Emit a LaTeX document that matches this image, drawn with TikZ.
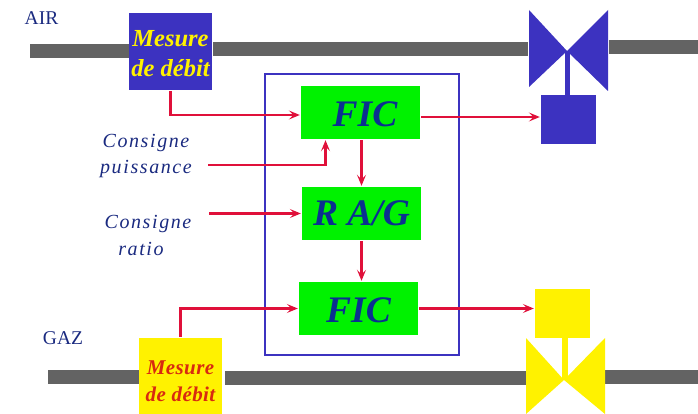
\documentclass[tikz,border=0pt]{standalone}
\usepackage{fontspec}
\setmainfont{Liberation Serif}
\newfontfamily\spaced[LetterSpace=8]{Liberation Serif}
\newfontfamily\gasfont[LetterSpace=2]{Liberation Serif}
\usetikzlibrary{arrows.meta,positioning,calc}
\definecolor{valveblue}{HTML}{3C32C0}
\definecolor{pipegrey}{HTML}{636363}
\definecolor{labelblue}{HTML}{1A2A80}
\definecolor{ficblue}{HTML}{0B3090}
\definecolor{sigred}{HTML}{E0103A}
\definecolor{ficgreen}{HTML}{00F200}
\definecolor{gasred}{HTML}{D82A10}

\begin{document}
\begin{tikzpicture}[x=1pt,y=-1pt,
 pipe/.style={fill=pipegrey,draw=none,minimum height=14pt,inner sep=0pt},
 ctrl/.style={fill=ficgreen,draw=none,minimum width=119pt,minimum height=53pt,inner sep=0pt,text=ficblue,font=\fontsize{37.5}{40}\selectfont\itshape\bfseries},
 meas/.style={draw=none,minimum width=83pt,inner sep=0pt,align=center,font=\fontsize{24.5}{30}\selectfont\itshape\bfseries},
 act/.style={draw=none,minimum width=55pt,minimum height=49pt,inner sep=0pt},
 lbl/.style={text=labelblue,inner sep=0pt,align=center,font=\fontsize{20}{26.5}\selectfont\spaced\itshape},
 fluid/.style={text=labelblue,inner sep=0pt,font=\fontsize{19.5}{20}\selectfont},
 arr/.style={-{Stealth[length=11pt,width=9pt,inset=4.5pt]},draw=sigred,line width=2.2pt,shorten >=1pt,shorten <=1pt}]
\useasboundingbox (0,0) rectangle (698,414);
% pipes
\node[pipe,minimum width=99pt] (airl) at (79,51) {};
\node[pipe,minimum width=315pt] (airm) at (370.5,49) {};
\node[pipe,minimum width=89pt] (airr) at (653.5,47.5) {};
\node[pipe,minimum width=91pt] (gazl) at (93.5,376.5) {};
\node[pipe,minimum width=301pt] (gazm) at (375.5,378) {};
\node[pipe,minimum width=93pt] (gazr) at (651.5,376.5) {};
% controller frame
\node[draw=valveblue,line width=1.8pt,minimum width=194pt,minimum height=281pt,inner sep=0pt] (frame) at (362,214.5) {};
% air valve
\fill[valveblue] (529,10)--(529,87)--(567,51)--cycle;
\fill[valveblue] (608,10)--(608,91)--(567,51)--cycle;
\fill[valveblue] (565,51) rectangle (570,95);
\node[act,fill=valveblue] (actair) at (568.5,119.5) {};
% gas valve
\fill[yellow] (526,338)--(526,414)--(564,380)--cycle;
\fill[yellow] (605,338)--(605,414)--(564,380)--cycle;
\fill[yellow] (562,337) rectangle (568,380);
\node[act,fill=yellow] (actgaz) at (562.5,313.5) {};
% measures
\node[meas,fill=valveblue,text=yellow,minimum height=77pt] (mesair) at (170.5,51.5) {\rule{0pt}{21pt}Mesure\\de débit};
\node[meas,fill=yellow,text=gasred,minimum height=76pt,font=\fontsize{21}{26.5}\selectfont\gasfont\itshape\bfseries] (mesgaz) at (180.5,376) {\rule{0pt}{24pt}Mesure\\de débit};
% controllers
\node[ctrl,text height=29pt] (ficair) at (360.5,112.5) {\hspace*{9pt}FIC};
\node[ctrl] (rag) at (361.5,213.5) {R A/G};
\node[ctrl,text height=29pt] (ficgaz) at (358.5,308.5) {FIC};
% labels
\node[fluid] (air) at (41.5,18) {AIR};
\node[fluid] (gaz) at (63,338) {GAZ};
\node[lbl] (puiss) at (146,156) {Consigne\\puissance};
\node[lbl] (ratio) at (148,235.5) {Consigne\\\hspace*{-14pt}ratio};
\coordinate (cp) at (207,165);
\coordinate (cr) at (208,213.5);
% signals
\draw[arr] (mesair.south) |- ([yshift=-2.5]ficair.west);
\draw[arr] (cp) -| ([xshift=-35]ficair.south);
\draw[arr] ([xshift=1]ficair.south) -- (rag.north);
\draw[arr] ([yshift=-4.5]ficair.east) -- ([yshift=2.5]actair.west);
\draw[arr] (cr) -- (rag.west);
\draw[arr] (rag.south) -- ([xshift=3]ficgaz.north);
\draw[arr] (mesgaz.north) |- (ficgaz.west);
\draw[arr] (ficgaz.east) -- ([yshift=5]actgaz.west);
\end{tikzpicture}
\end{document}
